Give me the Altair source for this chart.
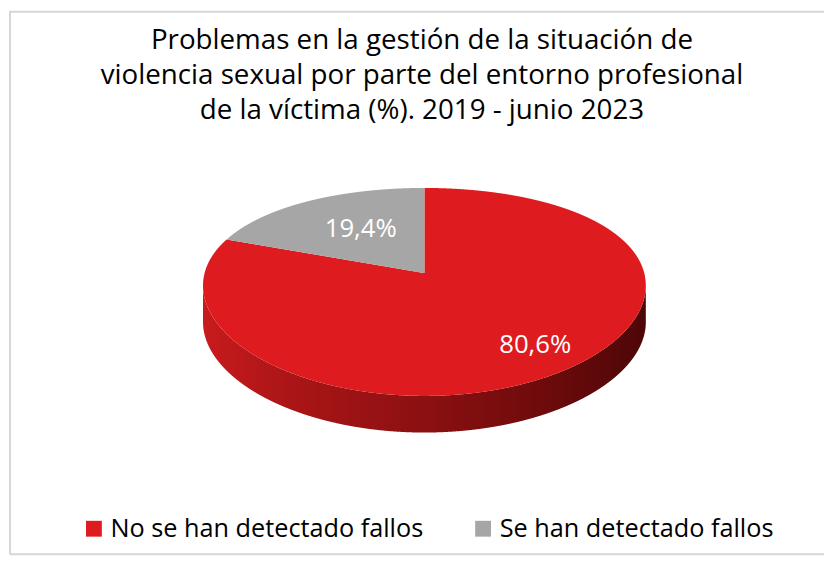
import numpy as np
import pandas as pd
import altair as alt

# ---------------- data ----------------
categories = ["No se han detectado fallos", "Se han detectado fallos"]
values = [80.6, 19.4]
colors = ["#de1c1f", "#a6a6a6"]
title_lines = [
    "Problemas en la gestión de la situación de",
    "violencia sexual por parte del entorno profesional",
    "de la víctima (%). 2019 - junio 2023",
]

# ---------------- geometry of the 3D pie (page pixel space) ----------------
# simple perspective model of a tilted disc: s = sin(theta), c = cos(theta),
# theta measured clockwise from 12 o'clock
CX, CY0, RX, B, A, K, DEPTH = 428.5, 273.0, 222.0, 105.0, 19.0, 0.12, 37.0


def proj(s, c):
    return CX + RX * s * (1 - K * c), CY0 - B * c + A * c * c


th = np.linspace(0, 2 * np.pi, 3601)[:-1]
px, py = proj(np.sin(th), np.cos(th))
i_min, i_max = int(np.argmin(px)), int(np.argmax(px))
up_idx = np.r_[np.arange(i_min, len(th)), np.arange(0, i_max + 1)]
lo_idx = np.arange(i_max, i_min + 1)
xu, yu = px[up_idx], py[up_idx]
o = np.argsort(px[lo_idx])
xl, yl = px[lo_idx][o], py[lo_idx][o]


def up(x):
    return np.interp(x, xu, yu)


def lo(x):
    return np.interp(x, xl, yl)


total = sum(values)
theta_split = 2 * np.pi * values[0] / total
xe, ye = proj(np.sin(theta_split), np.cos(theta_split))


def chord(x):
    return CY0 + (ye - CY0) * (x - CX) / (xe - CX)


grid = np.unique(np.concatenate([xu, [xe, CX]]))
grid = grid[(grid <= CX) | (grid > CX + 0.05)]

rows = []
for x in grid:
    top_y = chord(x) if xe <= x <= CX else up(x)
    rows.append((categories[0], x, top_y, lo(x)))
rows.append((categories[0], CX + 0.01, up(CX), lo(CX)))
for x in grid[(grid >= xe) & (grid <= CX)]:
    rows.append((categories[1], x, up(x), chord(x)))
top_df = pd.DataFrame(rows, columns=["cat", "x", "ya", "yb"]).sort_values(["cat", "x"])

side_df = pd.DataFrame({"x": xl, "ya": yl, "yb": yl + DEPTH})

cum = np.cumsum([0] + values[:-1])
mid = 2 * np.pi * (cum + np.array(values) / 2) / total
F = 0.65
lx, ly = proj(F * np.sin(mid), F * np.cos(mid))
label_df = pd.DataFrame({
    "cat": categories,
    "x": lx,
    "ya": ly,
    "label": [f"{v:.1f}".replace(".", ",") + "%" for v in values],
})

# ---------------- chart ----------------
X = alt.X("x:Q", scale=alt.Scale(domain=[8, 832], nice=False, zero=False), axis=None)
Y = alt.Y("ya:Q", scale=alt.Scale(domain=[8, 561], nice=False, zero=False, reverse=True), axis=None)

side = alt.Chart(side_df).mark_area(
    color=alt.Gradient(
        gradient="linear",
        stops=[
            alt.GradientStop(color="#c81b1d", offset=0),
            alt.GradientStop(color="#aa1517", offset=0.2),
            alt.GradientStop(color="#8c1011", offset=0.5),
            alt.GradientStop(color="#6a0a0b", offset=0.8),
            alt.GradientStop(color="#4e0607", offset=1),
        ],
        x1=0, x2=1, y1=0, y2=0,
    ),
).encode(x=X, y=Y, y2="yb:Q")

top = alt.Chart(top_df).mark_area().encode(
    x=X,
    y=Y,
    y2="yb:Q",
    color=alt.Color(
        "cat:N",
        scale=alt.Scale(domain=categories, range=colors),
        legend=alt.Legend(
            orient="none",
            legendX=74,
            legendY=510,
            direction="horizontal",
            title=None,
            symbolType="square",
            symbolSize=256,
            symbolStrokeWidth=0,
            labelFont="Open Sans",
            labelFontSize=25.5,
            labelColor="black",
            labelOffset=4,
            labelLimit=0,
            columnPadding=47,
        ),
    ),
)

lab1 = alt.Chart(label_df).mark_text(
    font="Open Sans", fontSize=26, color="white", dx=24, dy=11
).encode(x=X, y=Y, text="label:N").transform_filter(alt.datum.cat == categories[0])
lab2 = alt.Chart(label_df).mark_text(
    font="Open Sans", fontSize=26, color="white", dx=13, dy=6
).encode(x=X, y=Y, text="label:N").transform_filter(alt.datum.cat == categories[1])

one = pd.DataFrame({"a": [0]})
title_mark = alt.Chart(one).mark_text(
    font="Open Sans", fontSize=28, color="black", baseline="alphabetic", align="center",
    lineHeight=35,
).encode(x=alt.value(418), y=alt.value(39), text=alt.value(title_lines))

border_col = "#d6d6d6"
left_b = alt.Chart(one).mark_rule(color=border_col, strokeWidth=2).encode(
    x=alt.value(2), y=alt.value(0), y2=alt.value(549))
top_b = alt.Chart(one).mark_rule(color=border_col, strokeWidth=2).encode(
    x=alt.value(2), x2=alt.value(824), y=alt.value(1))
bot_b = alt.Chart(one).mark_rule(color=border_col, strokeWidth=2).encode(
    x=alt.value(2), x2=alt.value(824), y=alt.value(549))

chart = alt.layer(side, top, lab1, lab2, title_mark, left_b, top_b, bot_b).properties(
    width=824,
    height=553,
    autosize=alt.AutoSizeParams(type="none"),
    padding=0,
).configure_view(stroke=None)

chart.save("out.html", embed_options={"renderer": "svg", "actions": False})
